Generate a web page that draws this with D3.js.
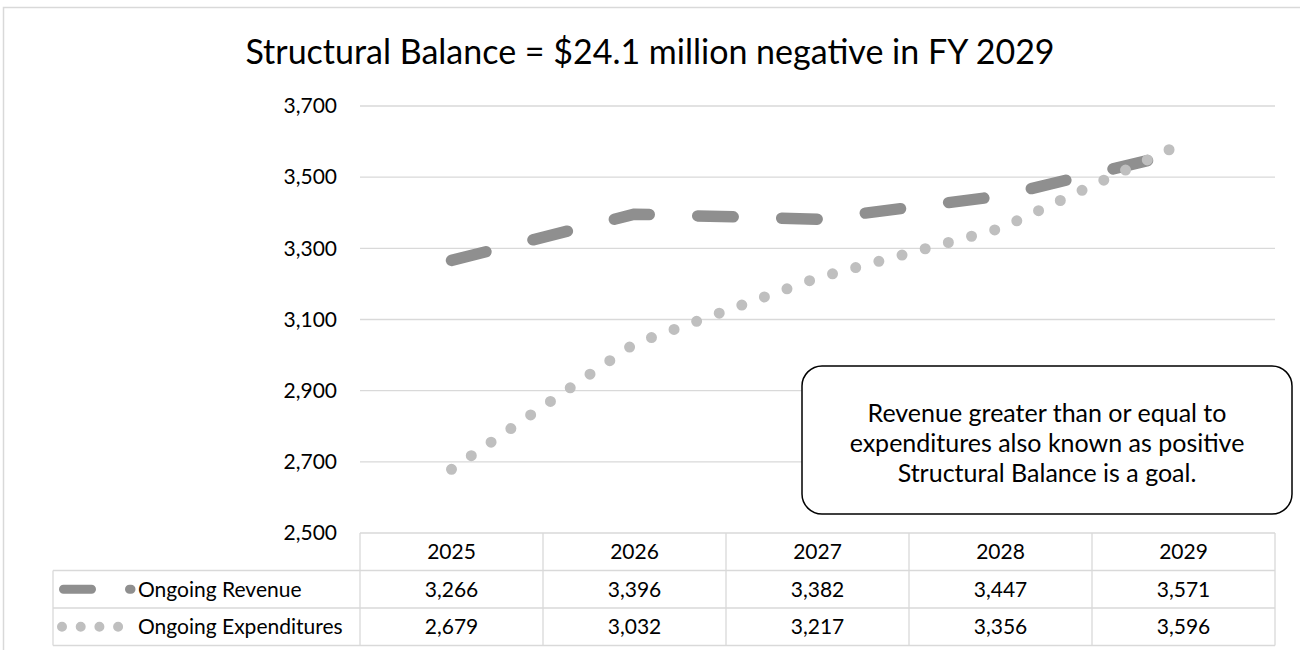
<!DOCTYPE html>
<html><head><meta charset="utf-8">
<script src="https://cdn.jsdelivr.net/npm/d3@7"></script>
<style>body{margin:0;background:#fff}svg{display:block}text{font-family:Lato,"Open Sans",sans-serif;fill:#000}</style>
</head><body><svg id="c" width="1300" height="650"></svg>
<script>
const categories = ["2025","2026","2027","2028","2029"];
const revenue = [3266,3396,3382,3447,3571];
const expenditures = [2679,3032,3217,3356,3596];
const yTicks = [2500,2700,2900,3100,3300,3500,3700];
const seriesNames = ["Ongoing Revenue","Ongoing Expenditures"];
const title = "Structural Balance = $24.1 million negative in FY 2029";
const note = ["Revenue greater than or equal to","expenditures also known as positive","Structural Balance is a goal."];

const svg = d3.select("#c");
const L = 360, R = 1275, T = 106, B = 533, rowH = 37.5;
const x = d3.scaleBand().domain(categories).range([L,R]);
const y = d3.scaleLinear().domain([2500,3700]).range([B,T]);
const cx = c => x(c) + x.bandwidth()/2;
const fmt = d3.format(",");
const grid = "#d9d9d9";

svg.append("rect").attr("x",3.5).attr("y",7.5).attr("width",1310).attr("height",660)
  .attr("fill","none").attr("stroke","#d9d9d9").attr("stroke-width",1.5);

svg.append("text").attr("x",650).attr("y",64).attr("text-anchor","middle")
  .attr("font-size",34).text(title);

// gridlines
svg.append("g").selectAll("line").data(yTicks.filter(t=>t>2500)).join("line")
  .attr("x1",L).attr("x2",R).attr("y1",d=>y(d)).attr("y2",d=>y(d))
  .attr("stroke",grid).attr("stroke-width",1.3);

// y axis
const ya = svg.append("g").attr("transform",`translate(${L},0)`)
  .call(d3.axisLeft(y).tickValues(yTicks).tickFormat(fmt).tickSize(0).tickPadding(23));
ya.select(".domain").remove();
ya.selectAll("text").attr("font-size",21).attr("font-family","Lato");

// table
const tg = svg.append("g");
const tableTop = B;
const lines = [];
lines.push([L,tableTop,R,tableTop]);
for (let i=1;i<=3;i++) lines.push([53,tableTop+rowH*i,R,tableTop+rowH*i]);
lines.push([53,tableTop+rowH,53,tableTop+rowH*3]);
categories.forEach(c=>lines.push([x(c),tableTop,x(c),tableTop+rowH*3]));
lines.push([R,tableTop,R,tableTop+rowH*3]);
tg.selectAll("line").data(lines).join("line")
  .attr("x1",d=>d[0]).attr("y1",d=>d[1]).attr("x2",d=>d[2]).attr("y2",d=>d[3])
  .attr("stroke",grid).attr("stroke-width",1.3);

tg.selectAll("text.h").data(categories).join("text").attr("class","h")
  .attr("x",d=>cx(d)).attr("y",tableTop+rowH*0.5).attr("dy","0.35em")
  .attr("text-anchor","middle").attr("font-size",21).text(d=>d);
[revenue,expenditures].forEach((s,i)=>{
  tg.selectAll("text.r"+i).data(s).join("text").attr("class","r"+i)
    .attr("x",(d,j)=>cx(categories[j])).attr("y",tableTop+rowH*(i+1.5)).attr("dy","0.35em")
    .attr("text-anchor","middle").attr("font-size",21).text(d=>fmt(d));
  tg.append("text").attr("x",138).attr("y",tableTop+rowH*(i+1.5)).attr("dy","0.35em")
    .attr("font-size",21).text(seriesNames[i]);
});

const styles = [
  {color:"#8f8f8f", width:11.5, dash:"35.5,48.5"},
  {color:"#bfbfbf", width:11, dash:"0,24"}
];
// legend keys
styles.forEach((st,i)=>{
  const yy = tableTop+rowH*(i+1.5);
  svg.append("line").attr("x1",i?62:63.5).attr("x2",i?119:131).attr("y1",yy).attr("y2",yy)
    .attr("stroke",st.color).attr("stroke-width",i?10:9).attr("stroke-linecap","round")
    .attr("stroke-dasharray", i ? "0,18.7" : "28,38");
});

// lines
const line = d3.line().x((d,i)=>cx(categories[i])).y(d=>y(d));
[revenue,expenditures].forEach((s,i)=>{
  svg.append("path").attr("d",line(s)).attr("fill","none")
    .attr("stroke",styles[i].color).attr("stroke-width",styles[i].width)
    .attr("stroke-linecap","round").attr("stroke-linejoin","round")
    .attr("stroke-dasharray",styles[i].dash);
});

// note box
const nb = svg.append("g");
nb.append("rect").attr("x",802).attr("y",366).attr("width",490).attr("height",148)
  .attr("rx",20).attr("fill","#fff").attr("stroke","#000").attr("stroke-width",1.5);
nb.selectAll("text").data(note).join("text").attr("x",1047).attr("y",(d,i)=>413+i*30)
  .attr("dy","0.35em").attr("text-anchor","middle").attr("font-size",25).text(d=>d);
</script></body></html>
